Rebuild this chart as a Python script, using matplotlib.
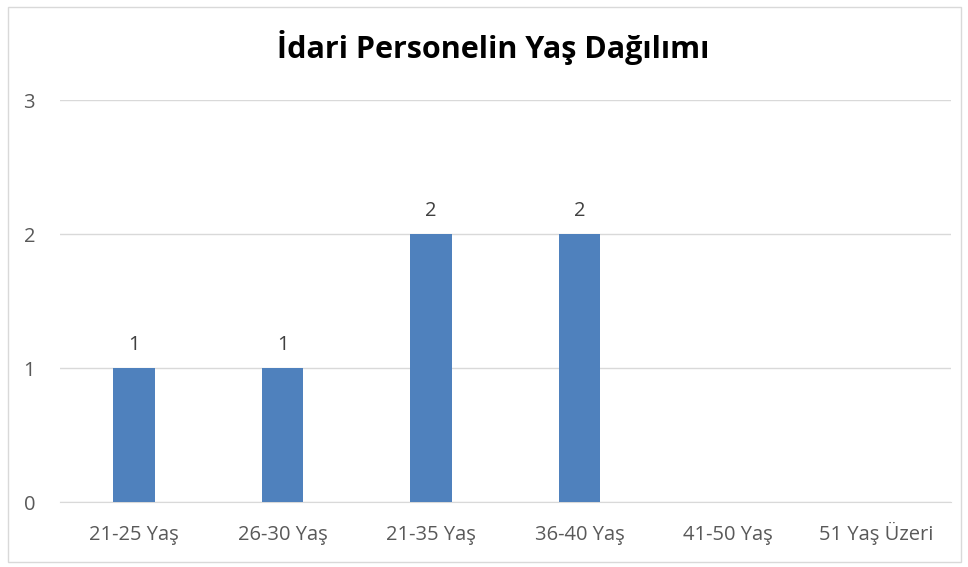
import matplotlib
matplotlib.use("Agg")
import matplotlib.pyplot as plt
from matplotlib.patches import Rectangle

categories = ["21-25 Yaş", "26-30 Yaş", "21-35 Yaş", "36-40 Yaş", "41-50 Yaş", "51 Yaş Üzeri"]
values = [1, 1, 2, 2, 0, 0]
title = "İdari Personelin Yaş Dağılımı"

plt.rcParams['font.family'] = ['Open Sans', 'DejaVu Sans']
text_color = "#595959"

fig = plt.figure(figsize=(9.68, 5.67), dpi=100)
ax = fig.add_axes([0.062, 0.1146, 0.920, 0.709])

x = list(range(len(categories)))
ax.bar(x, values, width=0.28, color="#4F81BD", zorder=3)

for xi, v in zip(x, values):
    if v > 0:
        ax.text(xi, v + 0.1, str(v), ha="center", va="bottom", fontsize=14.5, color="#404040")

ax.set_xlim(-0.5, len(categories) - 0.5)
ax.set_ylim(0, 3)
ax.set_yticks([0, 1, 2, 3])
ax.set_xticks(x)
ax.set_xticklabels(categories, fontsize=14.5, color=text_color)
for lbl in ax.get_xticklabels():
    lbl.set_verticalalignment("baseline")
ax.tick_params(axis="y", labelsize=14.5, labelcolor=text_color, length=0, pad=18)
ax.tick_params(axis="x", length=0, pad=27)
ax.yaxis.grid(True, color="#D9D9D9", linewidth=1, zorder=0)
for s in ["top", "right", "left"]:
    ax.spines[s].set_visible(False)
ax.spines["bottom"].set_color("#D9D9D9")

fig.text(0.51, 0.917, title, ha="center", va="center", fontsize=22, fontweight="bold", color="black")

fig.patches.append(Rectangle((0.008, 0.009), 0.985, 0.978, transform=fig.transFigure,
                             fill=False, edgecolor="#D9D9D9", linewidth=1))

fig.savefig("out.png", dpi=100)
